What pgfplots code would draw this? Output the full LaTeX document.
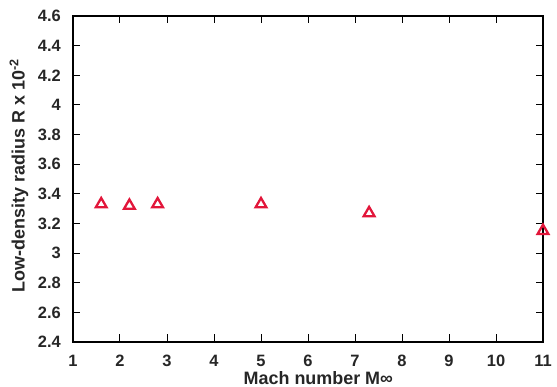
\documentclass[border=0pt]{standalone}
\usepackage{pgfplots}
\pgfplotsset{compat=1.18}
\usepackage{fontspec}
\setmainfont{Liberation Sans}
\definecolor{markred}{HTML}{E2163A}
\definecolor{labelgray}{HTML}{262626}
\begin{document}
\begin{tikzpicture}
\begin{axis}[
  scale only axis,
  width=470bp, height=326bp,
  xmin=1, xmax=11, ymin=2.4, ymax=4.6,
  xtick={1,2,...,11},
  ytick={2.4,2.6,2.8,3,3.2,3.4,3.6,3.8,4,4.2,4.4,4.6},
  yticklabels={2.4,2.6,2.8,3,3.2,3.4,3.6,3.8,4,4.2,4.4,4.6},
  tick align=inside,
  major tick length=7.5bp,
  tick style={line width=1bp, black},
  axis line style={line width=1.4bp},
  /pgf/number format/assume math mode=true,
  ticklabel style={font=\bfseries\fontsize{16.5}{18}\selectfont, text=labelgray, inner sep=0pt},
  xticklabel style={yshift=-13bp},
  yticklabel style={xshift=-12bp},
  xlabel={Mach number M∞},
  ylabel={Low-density radius R x 10\textsuperscript{-2}},
  label style={font=\bfseries\fontsize{18}{20}\selectfont, text=labelgray, inner sep=0pt},
  xlabel style={at={(axis description cs:0.522,-0.131)}, anchor=base},
  ylabel style={at={(axis description cs:-0.115,0.51)}, anchor=center},
]
\addplot[only marks, mark=triangle, mark size=6.2bp, mark options={draw=markred, line width=2.3bp, solid}]
  coordinates {(1.6,3.33) (2.2,3.32) (2.8,3.33) (5.0,3.33) (7.3,3.27) (11.0,3.15)};
\end{axis}
% page margins around the plot area
\path (current axis.south west) ++(-73bp,-45bp);
\path (current axis.north east) ++(14bp,16bp);
\end{tikzpicture}
\end{document}
